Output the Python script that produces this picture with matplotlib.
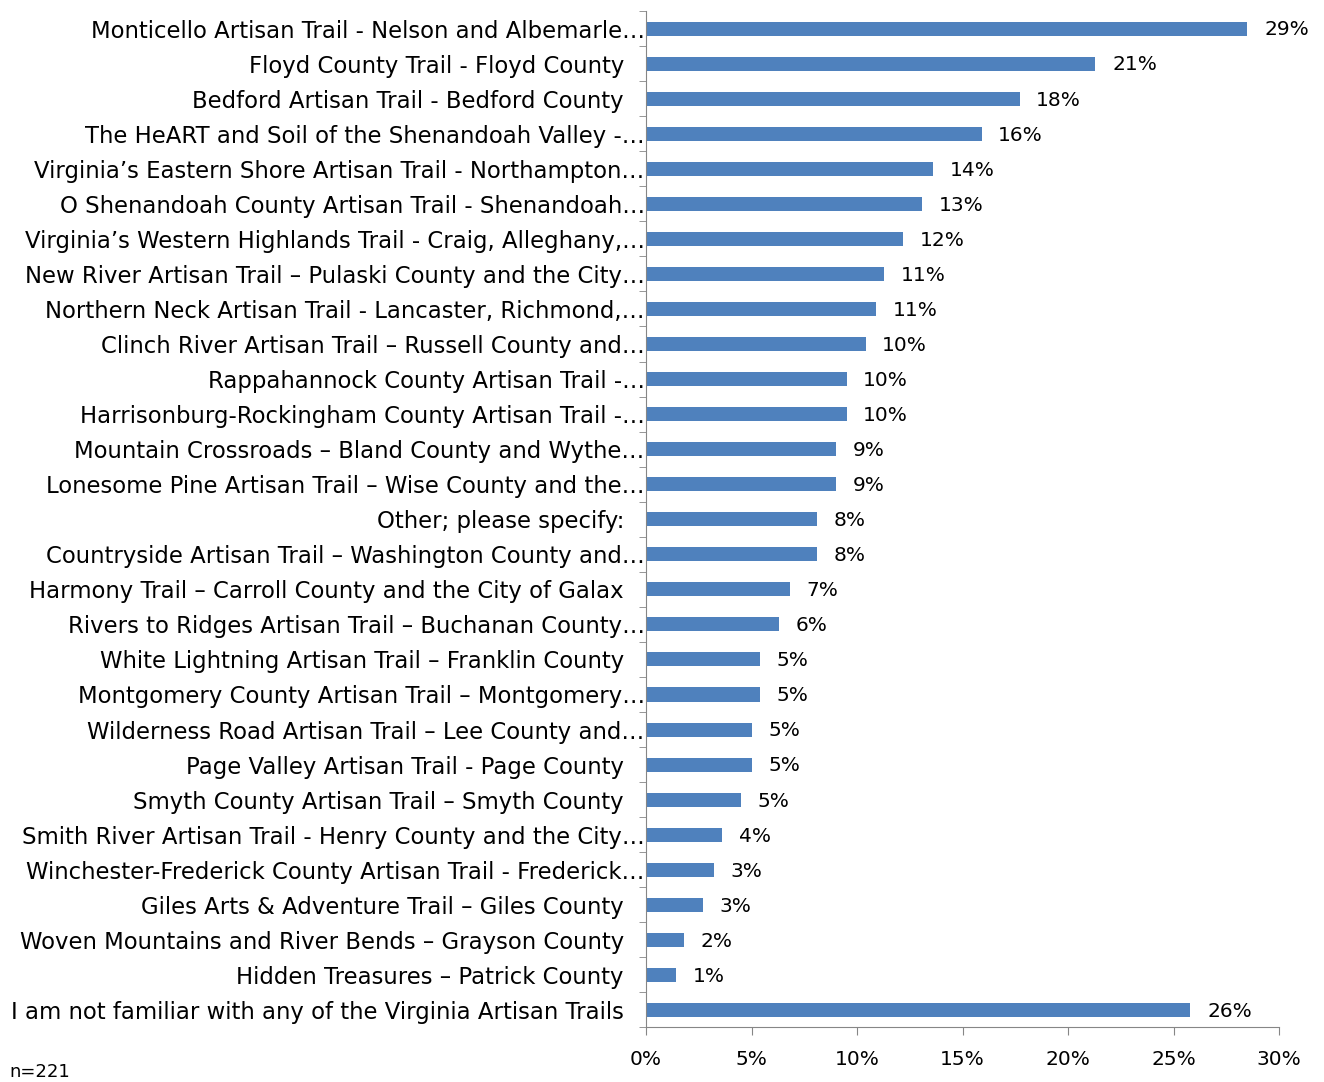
### Virginia Artisan Trails familiarity - horizontal bar chart

import numpy as np
from matplotlib import pyplot as plt
from matplotlib.ticker import FixedLocator, PercentFormatter

plt.rcParams['font.family'] = ['DejaVu Sans']

# categories, top to bottom
trails = ['Monticello Artisan Trail - Nelson and Albemarle\u2026',
          'Floyd County Trail - Floyd County',
          'Bedford Artisan Trail - Bedford County',
          'The HeART and Soil of the Shenandoah Valley -\u2026',
          'Virginia\u2019s Eastern Shore Artisan Trail - Northampton\u2026',
          'O Shenandoah County Artisan Trail - Shenandoah\u2026',
          'Virginia\u2019s Western Highlands Trail - Craig, Alleghany,\u2026',
          'New River Artisan Trail \u2013 Pulaski County and the City\u2026',
          'Northern Neck Artisan Trail - Lancaster, Richmond,\u2026',
          'Clinch River Artisan Trail \u2013 Russell County and\u2026',
          'Rappahannock County Artisan Trail -\u2026',
          'Harrisonburg-Rockingham County Artisan Trail -\u2026',
          'Mountain Crossroads \u2013 Bland County and Wythe\u2026',
          'Lonesome Pine Artisan Trail \u2013 Wise County and the\u2026',
          'Other; please specify:',
          'Countryside Artisan Trail \u2013 Washington County and\u2026',
          'Harmony Trail \u2013 Carroll County and the City of Galax',
          'Rivers to Ridges Artisan Trail \u2013 Buchanan County\u2026',
          'White Lightning Artisan Trail \u2013 Franklin County',
          'Montgomery County Artisan Trail \u2013 Montgomery\u2026',
          'Wilderness Road Artisan Trail \u2013 Lee County and\u2026',
          'Page Valley Artisan Trail - Page County',
          'Smyth County Artisan Trail \u2013 Smyth County',
          'Smith River Artisan Trail - Henry County and the City\u2026',
          'Winchester-Frederick County Artisan Trail - Frederick\u2026',
          'Giles Arts & Adventure Trail \u2013 Giles County',
          'Woven Mountains and River Bends \u2013 Grayson County',
          'Hidden Treasures \u2013 Patrick County',
          'I am not familiar with any of the Virginia Artisan Trails']

# share of respondents (%)
pct = [28.5, 21.3, 17.7, 15.9, 13.6, 13.1, 12.2, 11.3, 10.9, 10.4,
       9.5, 9.5, 9.0, 9.0, 8.1, 8.1, 6.8, 6.3, 5.4, 5.4,
       5.0, 5.0, 4.5, 3.6, 3.2, 2.7, 1.8, 1.4, 25.8]

# labels as printed next to bars
pct_labels = ['29%', '21%', '18%', '16%', '14%', '13%', '12%', '11%', '11%', '10%',
              '10%', '10%', '9%', '9%', '8%', '8%', '7%', '6%', '5%', '5%',
              '5%', '5%', '5%', '4%', '3%', '3%', '2%', '1%', '26%']

n_note = 'n=221'

bar_color = '#4F81BD'
axis_color = '#868686'
fs = 16.4     # category labels
fs_num = 14.5 # value and tick labels

fig = plt.figure(figsize=(13.24, 10.82), dpi=100)
ax = fig.add_axes([0.488, 0.0504, 0.478, 0.9394])

y = np.arange(len(trails))
ax.barh(y, pct, height=0.4, color=bar_color)
ax.set_ylim(len(trails) - 0.5, -0.5)
ax.set_xlim(0, 30)

for yi, v, lab in zip(y, pct, pct_labels):
    ax.annotate(lab, (v, yi), xytext=(12, -1), textcoords='offset points',
                va='center', ha='left', fontsize=fs_num)

ax.set_yticks(y)
ax.set_yticklabels(trails, fontsize=fs)
ax.tick_params(axis='y', which='major', length=0)
for tick, lab in zip(ax.yaxis.get_major_ticks(), trails):
    tick.set_pad(1 if lab.endswith('\u2026') else 16)
ax.yaxis.set_minor_locator(FixedLocator(np.arange(-0.5, len(trails), 1.0)))
ax.tick_params(axis='y', which='minor', length=5, color=axis_color, direction='out')

ax.set_xticks(np.arange(0, 31, 5))
ax.xaxis.set_major_formatter(PercentFormatter(decimals=0))
ax.tick_params(axis='x', length=6, color=axis_color, labelsize=fs_num, pad=10)

for s in ['top', 'right']:
    ax.spines[s].set_visible(False)
for s in ['left', 'bottom']:
    ax.spines[s].set_color(axis_color)

fig.text(0.007, 0.001, n_note, fontsize=13, ha='left', va='bottom')

plt.savefig('out.png', dpi=100)
